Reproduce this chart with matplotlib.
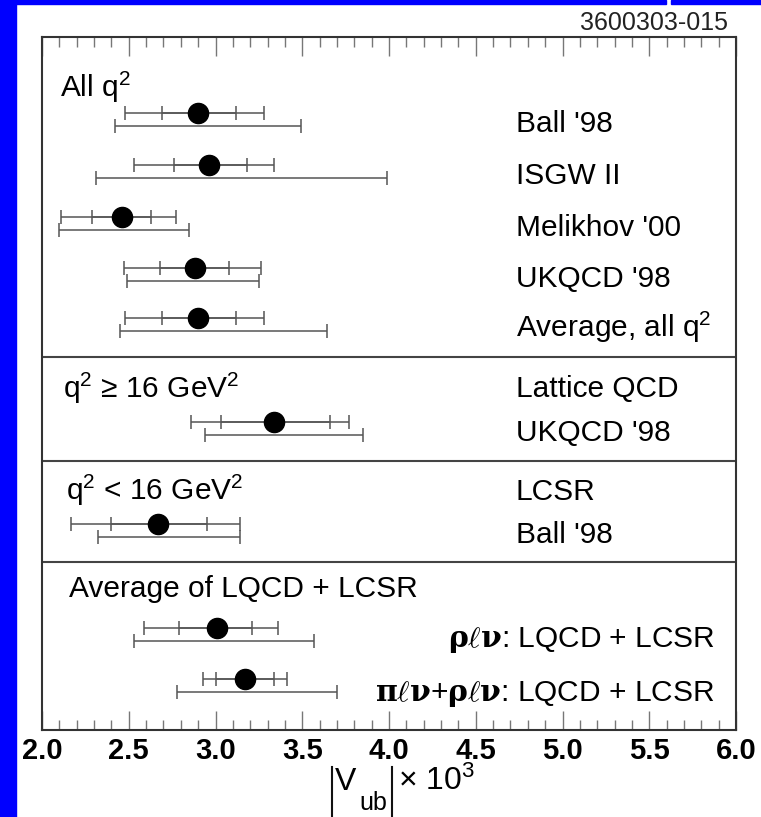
#|Vub| summary plot: form factor models, lattice QCD and LCSR

import matplotlib.pyplot as plt
import numpy as np
from matplotlib.patches import Rectangle
from matplotlib.lines import Line2D
from matplotlib.transforms import Affine2D
from matplotlib.ticker import FormatStrFormatter, MultipleLocator

plt.rcParams['font.family'] = ['Liberation Sans', 'DejaVu Sans']
plt.rcParams['mathtext.fontset'] = 'custom'
plt.rcParams['mathtext.rm'] = 'Liberation Sans'
plt.rcParams['mathtext.it'] = 'DejaVu Serif:bold'
plt.rcParams['mathtext.bf'] = 'Liberation Sans:bold'

#----------------------------------------------------------------------------------
#values (|Vub| x 10^3)

labels = ["Ball '98", "ISGW II", "Melikhov '00", "UKQCD '98", r"Average, all $\mathrm{q}^{2}$",
          "UKQCD '98", "Ball '98",
          r"$\rho\ell\nu$: LQCD + LCSR", r"$\pi\ell\nu$+$\rho\ell\nu$: LQCD + LCSR"]
vub = np.array([2.90, 2.96, 2.46, 2.88, 2.90, 3.34, 2.67, 3.01, 3.17])
#statistical
stat_lo = np.array([2.69, 2.76, 2.29, 2.68, 2.69, 3.03, 2.40, 2.79, 3.00])
stat_hi = np.array([3.12, 3.18, 2.63, 3.08, 3.12, 3.66, 2.95, 3.21, 3.34])
#statistical + systematic
syst_lo = np.array([2.48, 2.53, 2.11, 2.47, 2.48, 2.86, 2.17, 2.59, 2.93])
syst_hi = np.array([3.28, 3.34, 2.77, 3.26, 3.28, 3.77, 3.14, 3.36, 3.41])
#theory
theo_lo = np.array([2.42, 2.31, 2.10, 2.49, 2.45, 2.94, 2.32, 2.53, 2.78])
theo_hi = np.array([3.49, 3.99, 2.85, 3.25, 3.64, 3.85, 3.14, 3.57, 3.70])

group_titles = [r"All $\mathrm{q}^{2}$", r"$\mathrm{q}^{2}$ ≥ 16 GeV$^{2}$",
                r"$\mathrm{q}^{2}$ < 16 GeV$^{2}$", "Average of LQCD + LCSR"]
group_subtitles = ["", "Lattice QCD", "LCSR", ""]

#----------------------------------------------------------------------------------
#layout (y runs in pixels from the top of the picture)

row_y = np.array([113, 165, 217, 268, 318, 422, 524, 628, 679])
theo_dy = 13
label_dy = [19, 19, 19, 19, 19, 19, 19, 19, 22]
separators = [357, 461, 562]
title_y = [97, 398, 500, 597]
title_x = [2.105, 2.12, 2.14, 2.158]
subtitle_y = [0, 397, 500, 0]

fig = plt.figure(figsize=(7.61, 8.17), dpi=100)
px = Affine2D().scale(1 / 761, -1 / 817).translate(0, 1) + fig.transFigure
ax = fig.add_axes([42 / 761, 1 - 730 / 817, 694 / 761, 693 / 817])
ax.set_xlim(2.0, 6.0)
ax.set_ylim(730, 37)

grey = "#555555"
ax.errorbar(vub, row_y, xerr=[vub - syst_lo, syst_hi - vub], fmt="none",
            ecolor=grey, elinewidth=1.1, capsize=4.7, capthick=1.1)
ax.errorbar(vub, row_y, xerr=[vub - stat_lo, stat_hi - vub], fmt="none",
            ecolor=grey, elinewidth=1.1, capsize=4.7, capthick=1.1)
ax.errorbar(vub, row_y + theo_dy, xerr=[vub - theo_lo, theo_hi - vub], fmt="none",
            ecolor=grey, elinewidth=1.1, capsize=4.7, capthick=1.1)
ax.plot(vub, row_y, "o", color="black", markersize=14.5, zorder=5)

for y in separators:
    ax.axhline(y, color="#444444", linewidth=1.5)

fs = 21.5
for i in range(len(labels)):
    if i < 7:
        ax.text(4.73, row_y[i] + label_dy[i], labels[i], fontsize=fs, ha="left", va="baseline")
    else:
        ax.text(5.877, row_y[i] + label_dy[i], labels[i], fontsize=fs, ha="right", va="baseline")

for i in range(len(group_titles)):
    ax.text(title_x[i], title_y[i], group_titles[i], fontsize=fs, ha="left", va="baseline")
    if group_subtitles[i]:
        ax.text(4.73, subtitle_y[i], group_subtitles[i], fontsize=fs, ha="left", va="baseline")

#----------------------------------------------------------------------------------
#axes

ax.xaxis.set_major_locator(MultipleLocator(0.5))
ax.xaxis.set_minor_locator(MultipleLocator(0.1))
ax.xaxis.set_major_formatter(FormatStrFormatter("%.1f"))
ax.set_yticks([])
ax.tick_params(axis="x", which="both", direction="in", top=True, bottom=True,
               color="#777777", width=1.0)
ax.tick_params(axis="x", which="major", length=13.5, pad=5, labelsize=21)
ax.tick_params(axis="x", which="minor", length=7)
for lab in ax.get_xticklabels():
    lab.set_fontweight("bold")
for s in ax.spines.values():
    s.set_color("#333333")
    s.set_linewidth(1.5)

#x axis title |V_ub| x 10^3, built piece by piece for the tall bars
fig.add_artist(Line2D([332, 332], [767, 817], transform=px, color="#111111", linewidth=1.5))
fig.add_artist(Line2D([392, 392], [767, 817], transform=px, color="#111111", linewidth=1.5))
fig.text(335, 790, "V", transform=px, fontsize=23, ha="left", va="baseline")
fig.text(359, 810, "ub", transform=px, fontsize=18, ha="left", va="baseline")
fig.text(398, 790, r"× 10$^{3}$", transform=px, fontsize=23, ha="left", va="baseline")

fig.text(728, 23, "3600303-015", transform=px, fontsize=18, ha="right", va="center", color="#222222")

#blue frame of the slide
fig.add_artist(Rectangle((0, 0), 16 / 761, 1, transform=fig.transFigure, color="#0000ff"))
fig.add_artist(Rectangle((0, 1 - 4 / 817), 666 / 761, 4 / 817, transform=fig.transFigure, color="#0000ff"))
fig.add_artist(Rectangle((671 / 761, 1 - 4 / 817), 90 / 761, 4 / 817, transform=fig.transFigure, color="#0000ff"))

fig.savefig("out.png", dpi=100)
